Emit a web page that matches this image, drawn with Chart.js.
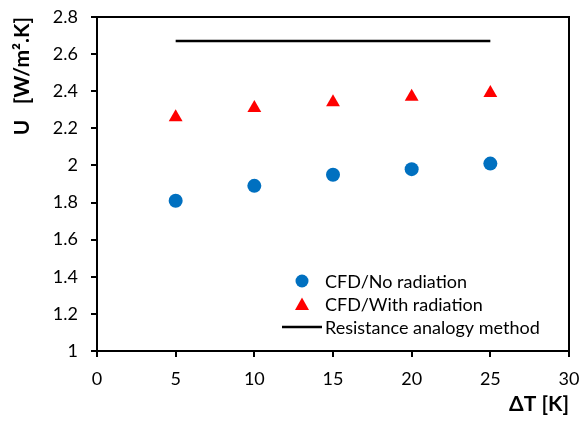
<!DOCTYPE html>
<html>
<head>
<meta charset="utf-8">
<script src="https://cdn.jsdelivr.net/npm/chart.js@4/dist/chart.umd.min.js"></script>
<style>
  html, body { margin: 0; padding: 0; background: #fff; }
  #wrap { width: 581px; height: 421px; position: relative; }
</style>
</head>
<body>
<div id="wrap"><canvas id="c" width="581" height="421"></canvas></div>
<script>
const deltaT = [5, 10, 15, 20, 25];
const uNoRadiation = [1.81, 1.89, 1.95, 1.98, 2.01];
const uWithRadiation = [2.26, 2.31, 2.34, 2.37, 2.39];
const resistanceX = [5, 25];
const resistanceU = [2.67, 2.67];
const seriesLabels = ["CFD/No radiation", "CFD/With radiation", "Resistance analogy method"];

const FONT = "Lato, 'Open Sans', sans-serif";

const frame = {
  id: "frame",
  afterDraw(chart) {
    const { ctx, chartArea: a } = chart;
    ctx.save();
    ctx.strokeStyle = "#000";
    ctx.lineWidth = 2;
    ctx.strokeRect(a.left, a.top, a.right - a.left, a.bottom - a.top);
    ctx.restore();
  },
};

const legendBox = {
  id: "legendBox",
  afterDraw(chart) {
    const ctx = chart.ctx;
    const x0 = 302, tx = 325;
    const rows = [281, 304, 327];
    ctx.save();
    ctx.font = "18px " + FONT;
    ctx.textBaseline = "middle";
    ctx.fillStyle = "#0070C0";
    ctx.beginPath();
    ctx.arc(x0, rows[0], 6.5, 0, Math.PI * 2);
    ctx.fill();
    ctx.fillStyle = "#FF0000";
    ctx.beginPath();
    ctx.moveTo(x0, rows[1] - 6.5);
    ctx.lineTo(x0 + 7, rows[1] + 6);
    ctx.lineTo(x0 - 7, rows[1] + 6);
    ctx.closePath();
    ctx.fill();
    ctx.strokeStyle = "#000";
    ctx.lineWidth = 2.5;
    ctx.beginPath();
    ctx.moveTo(282, rows[2]);
    ctx.lineTo(322, rows[2]);
    ctx.stroke();
    ctx.fillStyle = "#000";
    seriesLabels.forEach((s, i) => ctx.fillText(s, tx, rows[i] + 1));
    ctx.restore();
  },
};

new Chart(document.getElementById("c"), {
  type: "scatter",
  data: {
    datasets: [
      {
        label: seriesLabels[0],
        data: deltaT.map((x, i) => ({ x, y: uNoRadiation[i] })),
        pointStyle: "circle",
        pointRadius: 7,
        backgroundColor: "#0070C0",
        borderColor: "#0070C0",
        borderWidth: 0,
      },
      {
        label: seriesLabels[1],
        data: deltaT.map((x, i) => ({ x, y: uWithRadiation[i] })),
        pointStyle: "triangle",
        pointRadius: 8,
        backgroundColor: "#FF0000",
        borderColor: "#FF0000",
        borderWidth: 0,
      },
      {
        label: seriesLabels[2],
        type: "line",
        data: resistanceX.map((x, i) => ({ x, y: resistanceU[i] })),
        showLine: true,
        borderColor: "#000",
        borderWidth: 2.5,
        pointRadius: 0,
        fill: false,
      },
    ],
  },
  options: {
    responsive: false,
    animation: false,
    events: [],
    layout: { padding: { top: 17, right: 12, left: 0, bottom: 0 } },
    plugins: { legend: { display: false }, tooltip: { enabled: false } },
    scales: {
      x: {
        type: "linear",
        min: 0,
        max: 30,
        ticks: { stepSize: 5, color: "#000", padding: 11, font: { family: FONT, size: 18 } },
        grid: { drawOnChartArea: false, tickLength: 6, color: "#000", lineWidth: 2 },
        border: { color: "#000", width: 2 },
        title: {
          display: true,
          text: "ΔT [K]",
          align: "end",
          color: "#000",
          font: { family: FONT, size: 21, weight: "bold" },
          padding: { top: 5 },
        },
        afterFit(s) {
          s.height = 70;
          s.paddingRight = 0;
          s.paddingLeft = 0;
        },
      },
      y: {
        min: 1,
        max: 2.8,
        ticks: { stepSize: 0.2, color: "#000", padding: 13, font: { family: FONT, size: 18 },
          callback: (v) => String(Math.round(v * 10) / 10) },
        grid: { drawOnChartArea: false, tickLength: 6, color: "#000", lineWidth: 2 },
        border: { color: "#000", width: 2 },
        title: {
          display: true,
          text: "U   [W/m².K]",
          align: "end",
          color: "#000",
          font: { family: FONT, size: 21, weight: "bold" },
          padding: { top: 10, bottom: 0 },
        },
        afterFit(s) {
          s.width = 97;
          s.paddingTop = 0;
          s.paddingBottom = 0;
        },
      },
    },
  },
  plugins: [frame, legendBox],
});
</script>
</body>
</html>
